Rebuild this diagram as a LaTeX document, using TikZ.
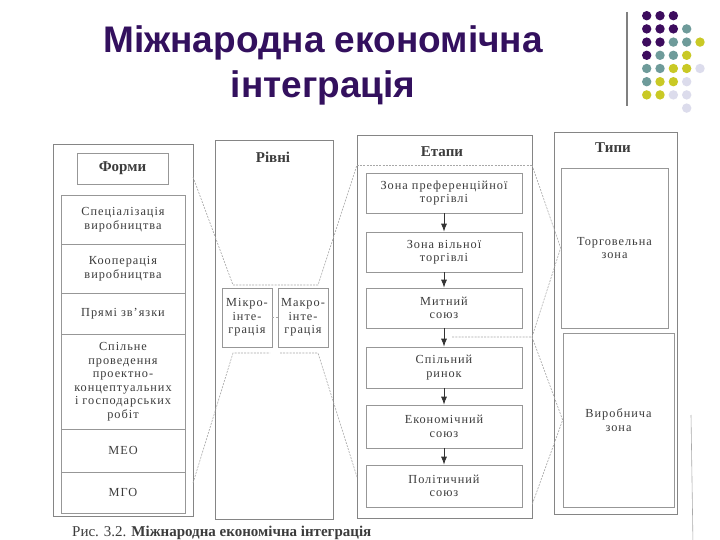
\documentclass[tikz,border=0pt]{standalone}
\usepackage{fontspec}
\setmainfont{Liberation Serif}
\newfontfamily\titlefont{Liberation Sans}
\newfontfamily\scanfont[LetterSpace=8]{Liberation Serif}
\usetikzlibrary{arrows.meta}
\definecolor{ttl}{HTML}{33105E}
\definecolor{dP}{HTML}{3D0C5E}
\definecolor{dT}{HTML}{6E9B9A}
\definecolor{dY}{HTML}{C9C925}
\definecolor{dL}{HTML}{DCDCEC}
\definecolor{scanline}{HTML}{858585}
\definecolor{scantext}{HTML}{3C3C3C}
\definecolor{dotline}{HTML}{A8A8A8}
\begin{document}
\begin{tikzpicture}[x=1pt,y=-1pt,
  colbox/.style={draw=scanline, line width=0.9pt, rectangle, inner sep=0pt},
  cell/.style={draw=scanline!85, line width=0.7pt, rectangle, inner sep=0pt, align=center,
    font=\scanfont\fontsize{12.3}{13.5}\selectfont, text=scantext},
  hdr/.style={font=\bfseries\fontsize{15}{17}\selectfont, text=scantext, inner sep=0pt},
  link/.style={draw=dotline, line width=0.6pt, dash pattern=on 2pt off 1.2pt},
  flowarrow/.style={draw=black!80, line width=0.8pt, -{Latex[length=8pt,width=6pt]}}
]
\useasboundingbox (0,0) rectangle (720,540);
\clip (0,0) rectangle (720,540);
\fill[white] (0,0) rectangle (720,540);

% title
\node[font=\titlefont\bfseries\fontsize{37}{43}\selectfont, text=ttl, anchor=base, inner sep=0pt] (title1) at (323,53) {Міжнародна економічна};
\node[font=\titlefont\bfseries\fontsize{37}{43}\selectfont, text=ttl, anchor=base, inner sep=0pt] (title2) at (323,98) {інтеграція};

% decoration
\draw[draw=gray, line width=2pt] (627,12) -- (627,106);
\foreach \c/\r/\col in {0/0/dP,1/0/dP,2/0/dP,
  0/1/dP,1/1/dP,2/1/dP,3/1/dT,
  0/2/dP,1/2/dP,2/2/dT,3/2/dT,4/2/dY,
  0/3/dP,1/3/dT,2/3/dT,3/3/dY,
  0/4/dT,1/4/dT,2/4/dY,3/4/dY,4/4/dL,
  0/5/dT,1/5/dY,2/5/dY,3/5/dL,
  0/6/dY,1/6/dY,2/6/dL,3/6/dL,
  3/7/dL}
  \fill[\col] ({646.7+13.33*\c},{15.7+13.2*\r}) circle (4.7);

% columns
\node[colbox, minimum width=140pt, minimum height=372pt] (formy) at (123,330) {};
\node[colbox, minimum width=118pt, minimum height=379pt] (rivni) at (274,329.5) {};
\node[colbox, minimum width=175pt, minimum height=383pt] (etapy) at (444.5,326.5) {};
\node[colbox, minimum width=123pt, minimum height=382pt] (typy) at (615.5,323) {};

% Форми
\node[cell, hdr, draw=scanline!85, minimum width=91pt, minimum height=31pt] (formyh) at (122.5,168.5) {Форми};
\node[cell, minimum width=124pt, minimum height=49pt] (s1) at (123,219.5) {Спеціалізація\\виробництва};
\node[cell, minimum width=124pt, minimum height=49pt] (s2) at (123,268.5) {Кооперація\\виробництва};
\node[cell, minimum width=124pt, minimum height=41pt] (s3) at (123,313.5) {Прямі зв’язки};
\node[cell, minimum width=124pt, minimum height=95pt] (s4) at (123,381.5) {Спільне\\проведення\\проектно-\\концептуальних\\і господарських\\робіт};
\node[cell, minimum width=124pt, minimum height=43pt] (s5) at (123,450.5) {МЕО};
\node[cell, minimum width=124pt, minimum height=41pt] (s6) at (123,492.5) {МГО};

% Рівні
\node[hdr] (rivnih) at (273,157) {Рівні};
\node[cell, minimum width=50pt, minimum height=59pt] (mikro) at (247,317.5) {Мікро-\\інте-\\грація};
\node[cell, minimum width=50pt, minimum height=59pt] (makro) at (303,317.5) {Макро-\\інте-\\грація};

% Етапи
\node[hdr] (etapyh) at (442,152) {Етапи};
\node[cell, minimum width=156pt, minimum height=40pt] (e1) at (444,193) {Зона преференційної\\торгівлі};
\node[cell, minimum width=156pt, minimum height=40pt] (e2) at (444,252) {Зона вільної\\торгівлі};
\node[cell, minimum width=156pt, minimum height=40pt] (e3) at (444,308) {Митний\\союз};
\node[cell, minimum width=156pt, minimum height=41pt] (e4) at (444,367.5) {Спільний\\ринок};
\node[cell, minimum width=156pt, minimum height=43pt] (e5) at (444,426.5) {Економічний\\союз};
\node[cell, minimum width=156pt, minimum height=42pt] (e6) at (444,486) {Політичний\\союз};
\foreach \a/\b in {e1/e2,e2/e3,e3/e4,e4/e5,e5/e6}
  \draw[flowarrow] (\a) -- (\b);

% Типи
\node[hdr] (typyh) at (613,148) {Типи};
\node[cell, minimum width=107pt, minimum height=160pt] (t1) at (614.5,248) {Торговельна\\зона};
\node[cell, minimum width=111pt, minimum height=174pt] (t2) at (618.5,420) {Виробнича\\зона};

% dotted links
\coordinate (fA) at (193,177);
\coordinate (rA) at (233,285);
\coordinate (rB) at (318,285);
\coordinate (eA) at (357,165);
\draw[link] (fA) -- (rA) -- (rB) -- (eA);
\coordinate (fB) at (193,483);
\coordinate (rC) at (233,353);
\coordinate (rD) at (270,353);
\coordinate (rE) at (280,353);
\coordinate (rF) at (318,353);
\coordinate (eB) at (357,477);
\draw[link] (fB) -- (rC) -- (rD);
\draw[link] (rE) -- (rF) -- (eB);
\draw[link] (mikro) -- (makro);
\coordinate (eC) at (532,165);
\draw[link] (eA) -- (eC);
\coordinate (eD) at (532,337);
\coordinate (eE) at (452,337);
\coordinate (eF) at (532,505);
\draw[link] (eC) -- (t1.west) -- (eD) -- (eE);
\draw[link] (eD) -- (t2.west) -- (eF);

% page edge
\coordinate (pe1) at (691,415);
\coordinate (pe2) at (693,545);
\draw[scanline!70, line width=0.6pt] (pe1) -- (pe2);

% caption
\node[anchor=base west, text=scantext, font=\fontsize{15}{17}\selectfont, inner sep=0pt] (caption) at (72,536) {Рис. 3.2. \textbf{Міжнародна економічна інтеграція}};
\end{tikzpicture}
\end{document}
